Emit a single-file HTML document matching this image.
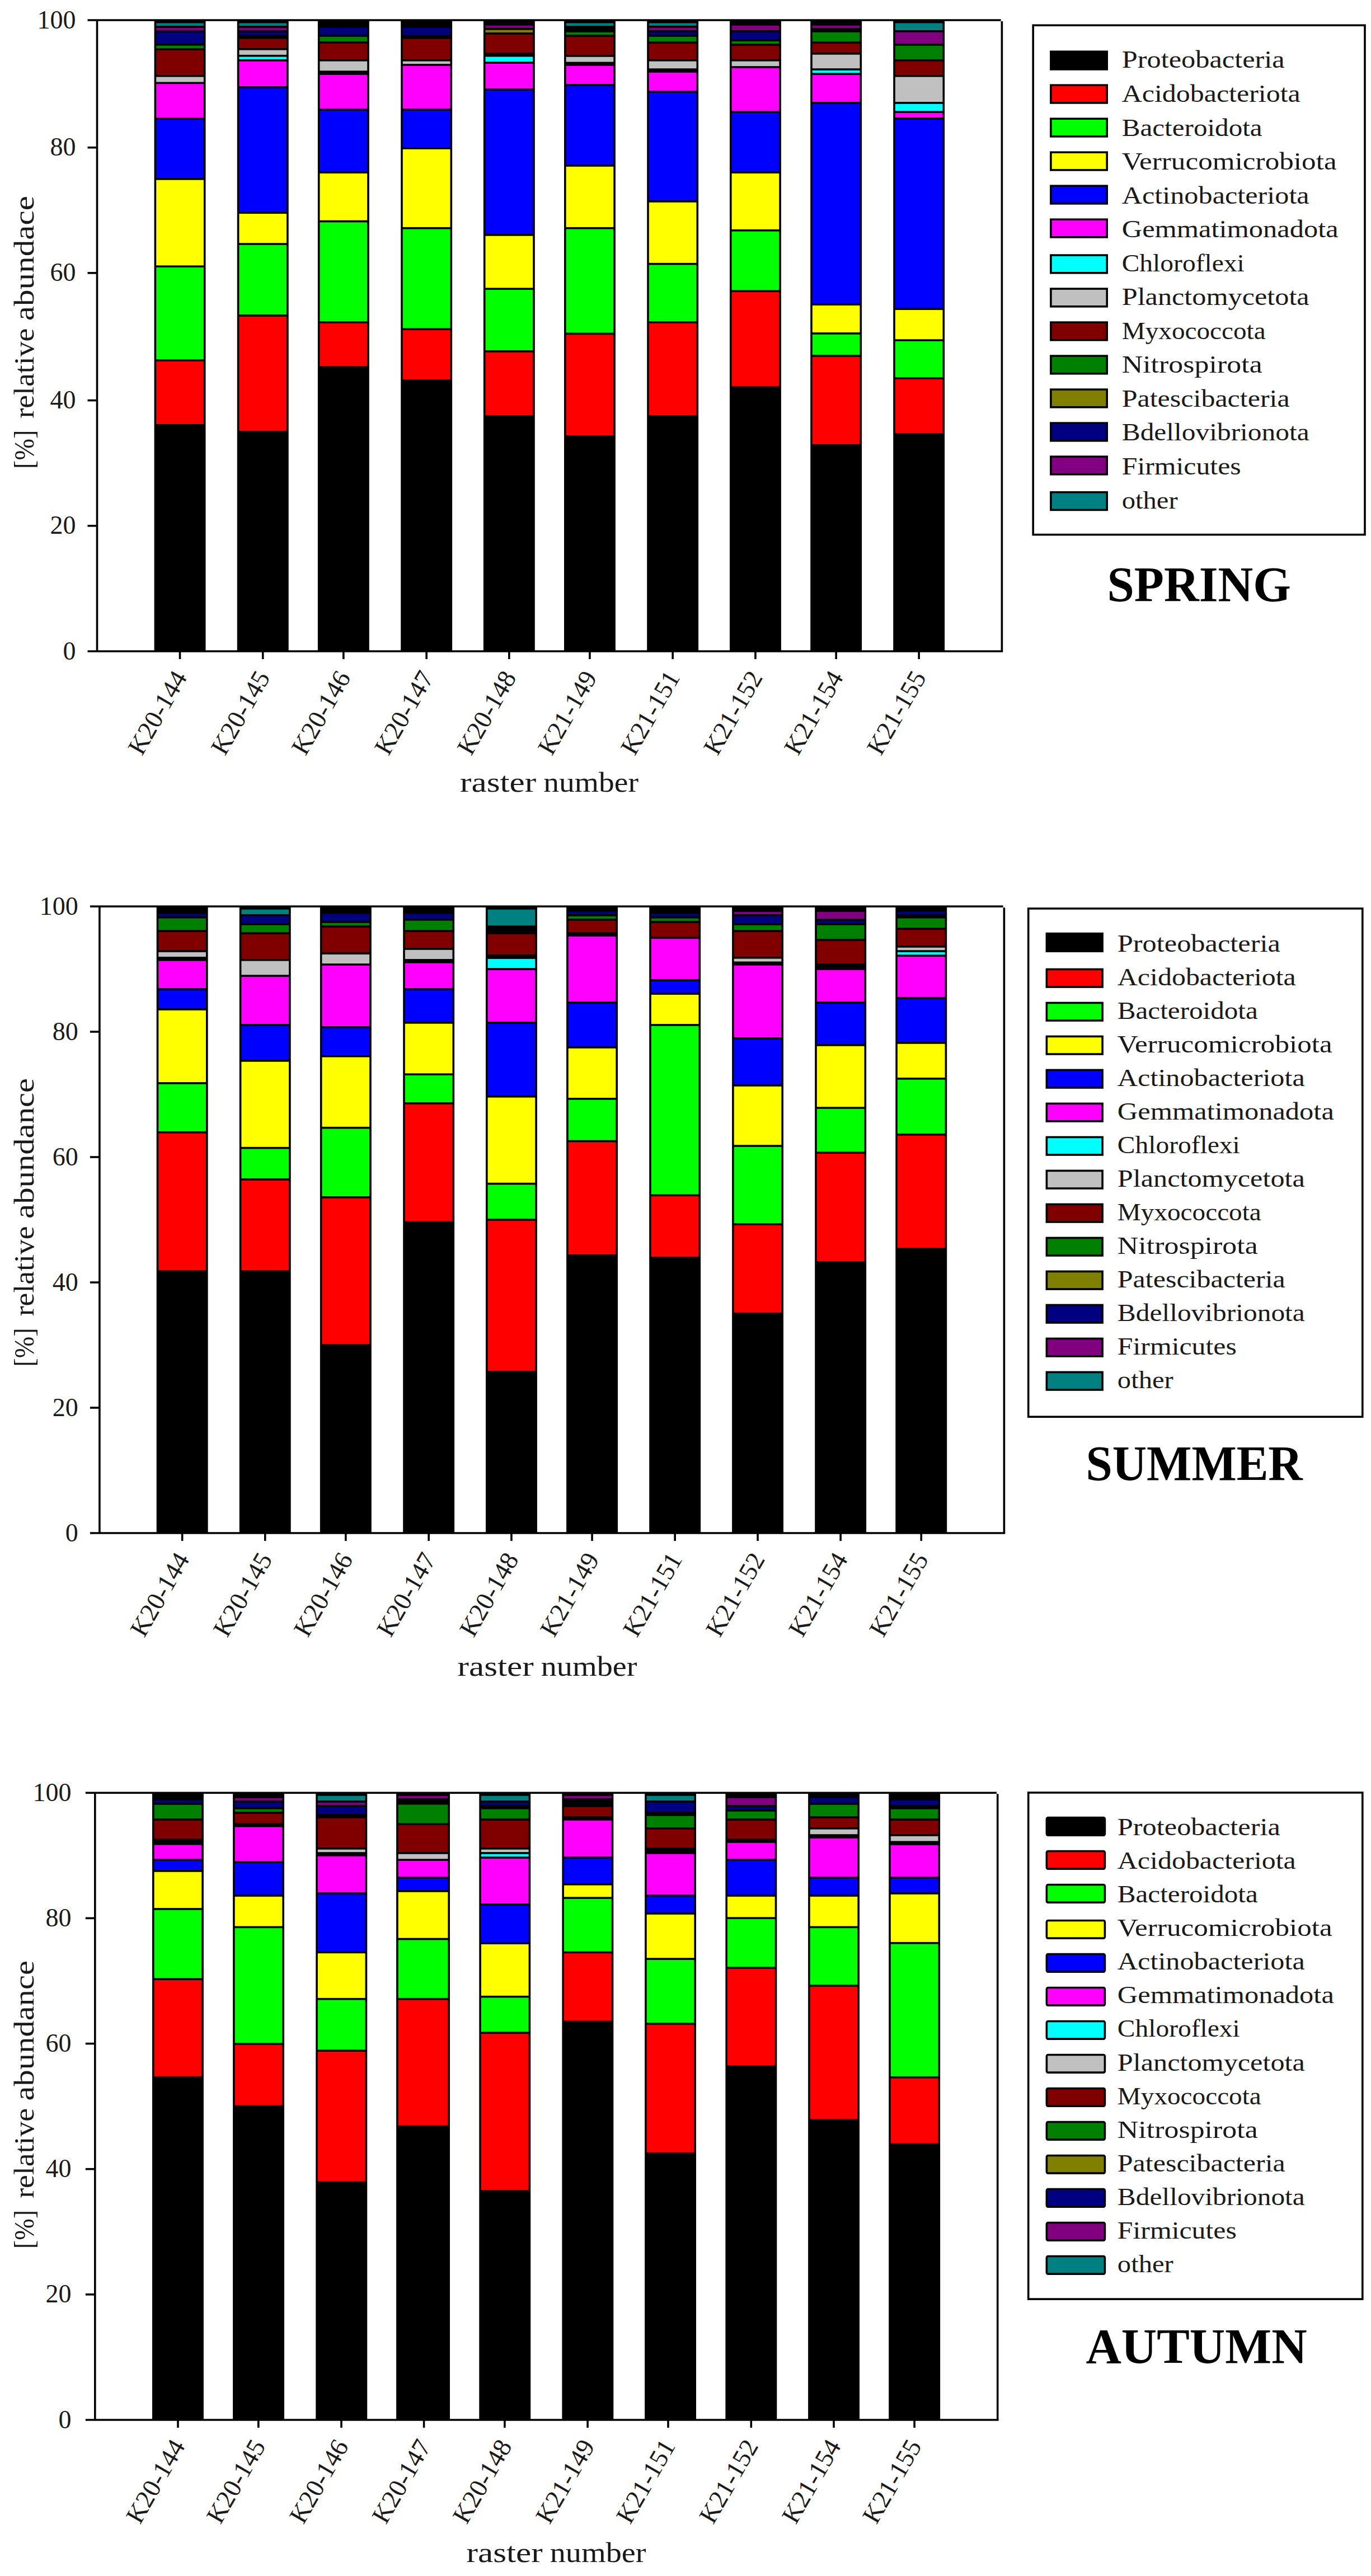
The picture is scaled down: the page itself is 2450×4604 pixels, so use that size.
<!DOCTYPE html>
<html lang="en">
<head>
<meta charset="utf-8">
<title>Relative abundance of bacterial phyla - spring, summer, autumn</title>
<style>
html,body{margin:0;padding:0;background:#fff;}
body{width:2450px;height:4604px;overflow:hidden;}
svg{display:block;}
text{font-family:"Liberation Serif","DejaVu Serif",serif;fill:#1a1a1a;}
.tl text{font-size:46px;}
.at{font-size:50px;}
.lg{font-size:45px;}
.se{font-size:88px;font-weight:bold;fill:#000;}
</style>
</head>
<body>
<svg width="2450" height="4604" viewBox="0 0 2450 4604">
<rect x="0" y="0" width="2450" height="4604" fill="#fff"/>

<g>
<rect x="275.6" y="36" width="91.9" height="1128" fill="#000"/>
<rect x="279.2" y="41.4" width="84.7" height="4.72" fill="#008080"/>
<rect x="279.2" y="49.72" width="84.7" height="4.73" fill="#800080"/>
<rect x="279.2" y="58.05" width="84.7" height="19.82" fill="#000080"/>
<rect x="279.2" y="81.47" width="84.7" height="4.96" fill="#008000"/>
<rect x="279.2" y="90.02" width="84.7" height="43.91" fill="#800000"/>
<rect x="279.2" y="137.53" width="84.7" height="9.01" fill="#c0c0c0"/>
<rect x="279.2" y="150.14" width="84.7" height="60.34" fill="#ff00ff"/>
<rect x="279.2" y="214.08" width="84.7" height="104.02" fill="#0000ff"/>
<rect x="279.2" y="321.71" width="84.7" height="152.66" fill="#ffff00"/>
<rect x="279.2" y="477.96" width="84.7" height="164.37" fill="#00ff00"/>
<rect x="279.2" y="645.93" width="84.7" height="111.98" fill="#ff0000"/>
<rect x="423.8" y="36" width="91.9" height="1128" fill="#000"/>
<rect x="427.4" y="41.4" width="84.7" height="4.72" fill="#008080"/>
<rect x="427.4" y="49.72" width="84.7" height="4.51" fill="#800080"/>
<rect x="427.4" y="57.82" width="84.7" height="4.55" fill="#000080"/>
<rect x="427.4" y="69.48" width="84.7" height="16.49" fill="#800000"/>
<rect x="427.4" y="89.57" width="84.7" height="8.33" fill="#c0c0c0"/>
<rect x="427.4" y="101.5" width="84.7" height="4.51" fill="#00ffff"/>
<rect x="427.4" y="109.61" width="84.7" height="44.58" fill="#ff00ff"/>
<rect x="427.4" y="157.79" width="84.7" height="220.65" fill="#0000ff"/>
<rect x="427.4" y="382.05" width="84.7" height="52.24" fill="#ffff00"/>
<rect x="427.4" y="437.89" width="84.7" height="124.29" fill="#00ff00"/>
<rect x="427.4" y="565.77" width="84.7" height="204.29" fill="#ff0000"/>
<rect x="567.9" y="36" width="91.9" height="1128" fill="#000"/>
<rect x="571.5" y="49.67" width="84.7" height="12.43" fill="#000080"/>
<rect x="571.5" y="65.71" width="84.7" height="8.33" fill="#008000"/>
<rect x="571.5" y="77.64" width="84.7" height="28.37" fill="#800000"/>
<rect x="571.5" y="109.61" width="84.7" height="16.71" fill="#c0c0c0"/>
<rect x="571.5" y="133.88" width="84.7" height="60.39" fill="#ff00ff"/>
<rect x="571.5" y="197.87" width="84.7" height="108.53" fill="#0000ff"/>
<rect x="571.5" y="310" width="84.7" height="83.76" fill="#ffff00"/>
<rect x="571.5" y="397.36" width="84.7" height="176.97" fill="#00ff00"/>
<rect x="571.5" y="577.93" width="84.7" height="76.4" fill="#ff0000"/>
<rect x="716.2" y="36" width="91.9" height="1128" fill="#000"/>
<rect x="719.8" y="49.67" width="84.7" height="12.71" fill="#000080"/>
<rect x="719.8" y="69.48" width="84.7" height="36.53" fill="#800000"/>
<rect x="719.8" y="109.61" width="84.7" height="4.51" fill="#c0c0c0"/>
<rect x="719.8" y="117.72" width="84.7" height="76.55" fill="#ff00ff"/>
<rect x="719.8" y="197.87" width="84.7" height="65.3" fill="#0000ff"/>
<rect x="719.8" y="266.77" width="84.7" height="139.15" fill="#ffff00"/>
<rect x="719.8" y="409.52" width="84.7" height="176.97" fill="#00ff00"/>
<rect x="719.8" y="590.09" width="84.7" height="88.11" fill="#ff0000"/>
<rect x="863.9" y="36" width="91.9" height="1128" fill="#000"/>
<rect x="867.5" y="45.62" width="84.7" height="4.33" fill="#800080"/>
<rect x="867.5" y="53.55" width="84.7" height="4.51" fill="#808000"/>
<rect x="867.5" y="61.65" width="84.7" height="32.7" fill="#800000"/>
<rect x="867.5" y="101.46" width="84.7" height="8.83" fill="#00ffff"/>
<rect x="867.5" y="113.89" width="84.7" height="44.36" fill="#ff00ff"/>
<rect x="867.5" y="161.85" width="84.7" height="256.23" fill="#0000ff"/>
<rect x="867.5" y="421.67" width="84.7" height="92.77" fill="#ffff00"/>
<rect x="867.5" y="518.04" width="84.7" height="108.08" fill="#00ff00"/>
<rect x="867.5" y="629.72" width="84.7" height="112.43" fill="#ff0000"/>
<rect x="1008" y="36" width="91.9" height="1128" fill="#000"/>
<rect x="1011.6" y="41.4" width="84.7" height="4.77" fill="#008080"/>
<rect x="1011.6" y="57.78" width="84.7" height="4.33" fill="#008000"/>
<rect x="1011.6" y="65.71" width="84.7" height="32.42" fill="#800000"/>
<rect x="1011.6" y="101.73" width="84.7" height="8.83" fill="#c0c0c0"/>
<rect x="1011.6" y="117.67" width="84.7" height="32.47" fill="#ff00ff"/>
<rect x="1011.6" y="153.74" width="84.7" height="140.5" fill="#0000ff"/>
<rect x="1011.6" y="297.84" width="84.7" height="108.08" fill="#ffff00"/>
<rect x="1011.6" y="409.52" width="84.7" height="185.08" fill="#00ff00"/>
<rect x="1011.6" y="598.19" width="84.7" height="179.97" fill="#ff0000"/>
<rect x="1156.2" y="36" width="91.9" height="1128" fill="#000"/>
<rect x="1159.8" y="41.4" width="84.7" height="4.49" fill="#008080"/>
<rect x="1159.8" y="49.49" width="84.7" height="4.51" fill="#800080"/>
<rect x="1159.8" y="57.6" width="84.7" height="4.51" fill="#000080"/>
<rect x="1159.8" y="65.71" width="84.7" height="8.56" fill="#008000"/>
<rect x="1159.8" y="77.86" width="84.7" height="28.15" fill="#800000"/>
<rect x="1159.8" y="109.61" width="84.7" height="12.66" fill="#c0c0c0"/>
<rect x="1159.8" y="129.83" width="84.7" height="32.47" fill="#ff00ff"/>
<rect x="1159.8" y="165.9" width="84.7" height="192.28" fill="#0000ff"/>
<rect x="1159.8" y="361.78" width="84.7" height="108.08" fill="#ffff00"/>
<rect x="1159.8" y="473.46" width="84.7" height="100.87" fill="#00ff00"/>
<rect x="1159.8" y="577.93" width="84.7" height="164.21" fill="#ff0000"/>
<rect x="1304" y="36" width="91.9" height="1128" fill="#000"/>
<rect x="1307.6" y="45.62" width="84.7" height="8.38" fill="#800080"/>
<rect x="1307.6" y="57.6" width="84.7" height="12.61" fill="#000080"/>
<rect x="1307.6" y="73.81" width="84.7" height="4.28" fill="#008000"/>
<rect x="1307.6" y="81.69" width="84.7" height="24.32" fill="#800000"/>
<rect x="1307.6" y="109.61" width="84.7" height="8.56" fill="#c0c0c0"/>
<rect x="1307.6" y="121.77" width="84.7" height="76.55" fill="#ff00ff"/>
<rect x="1307.6" y="201.92" width="84.7" height="104.47" fill="#0000ff"/>
<rect x="1307.6" y="310" width="84.7" height="99.97" fill="#ffff00"/>
<rect x="1307.6" y="413.57" width="84.7" height="104.92" fill="#00ff00"/>
<rect x="1307.6" y="522.09" width="84.7" height="168.27" fill="#ff0000"/>
<rect x="1448.2" y="36" width="91.9" height="1128" fill="#000"/>
<rect x="1451.8" y="45.62" width="84.7" height="4.6" fill="#800080"/>
<rect x="1451.8" y="57.78" width="84.7" height="16.49" fill="#008000"/>
<rect x="1451.8" y="77.86" width="84.7" height="16.21" fill="#800000"/>
<rect x="1451.8" y="97.68" width="84.7" height="24.54" fill="#c0c0c0"/>
<rect x="1451.8" y="125.82" width="84.7" height="4.51" fill="#00ffff"/>
<rect x="1451.8" y="133.93" width="84.7" height="48.19" fill="#ff00ff"/>
<rect x="1451.8" y="185.71" width="84.7" height="356.65" fill="#0000ff"/>
<rect x="1451.8" y="545.96" width="84.7" height="48.19" fill="#ffff00"/>
<rect x="1451.8" y="597.74" width="84.7" height="36.48" fill="#00ff00"/>
<rect x="1451.8" y="637.82" width="84.7" height="156.11" fill="#ff0000"/>
<rect x="1596.2" y="36" width="91.9" height="1128" fill="#000"/>
<rect x="1599.8" y="41.4" width="84.7" height="12.6" fill="#008080"/>
<rect x="1599.8" y="57.6" width="84.7" height="20.49" fill="#800080"/>
<rect x="1599.8" y="81.69" width="84.7" height="24.32" fill="#008000"/>
<rect x="1599.8" y="109.61" width="84.7" height="24.32" fill="#800000"/>
<rect x="1599.8" y="137.53" width="84.7" height="44.58" fill="#c0c0c0"/>
<rect x="1599.8" y="185.71" width="84.7" height="12.61" fill="#00ffff"/>
<rect x="1599.8" y="201.92" width="84.7" height="8.11" fill="#ff00ff"/>
<rect x="1599.8" y="213.63" width="84.7" height="336.83" fill="#0000ff"/>
<rect x="1599.8" y="554.06" width="84.7" height="52.24" fill="#ffff00"/>
<rect x="1599.8" y="609.9" width="84.7" height="64.4" fill="#00ff00"/>
<rect x="1599.8" y="677.9" width="84.7" height="96.22" fill="#ff0000"/>
<g stroke="#000" stroke-width="3.6" fill="none" stroke-linecap="butt">
<path d="M156.5 36H1788.6"/>
<path d="M156.5 1164H1792.2"/>
<path d="M173.5 36V1164"/>
<path d="M1790.4 38V1164"/>
<path d="M156.5 263.7H173.5"/>
<path d="M156.5 487.9H173.5"/>
<path d="M156.5 715.6H173.5"/>
<path d="M156.5 939.8H173.5"/>
<path d="M321.55 1164V1178"/>
<path d="M469.75 1164V1178"/>
<path d="M613.85 1164V1178"/>
<path d="M762.15 1164V1178"/>
<path d="M909.85 1164V1178"/>
<path d="M1053.95 1164V1178"/>
<path d="M1202.15 1164V1178"/>
<path d="M1349.95 1164V1178"/>
<path d="M1494.15 1164V1178"/>
<path d="M1642.15 1164V1178"/>
</g>
<g class="tl" text-anchor="end">
<text x="135.5" y="50.5">100</text>
<text x="135.5" y="278.2">80</text>
<text x="135.5" y="502.4">60</text>
<text x="135.5" y="730.1">40</text>
<text x="135.5" y="954.3">20</text>
<text x="135.5" y="1178.5">0</text>
</g>
<g class="at" transform="translate(59.5 838) rotate(-90)">
<text x="0" y="0" textLength="69.3" lengthAdjust="spacingAndGlyphs">[%]</text>
<text x="90.4" y="0" textLength="161" lengthAdjust="spacingAndGlyphs">relative</text>
<text x="264.8" y="0" textLength="223.2" lengthAdjust="spacingAndGlyphs">abundace</text>
</g>
<g class="tl" text-anchor="end">
<text transform="translate(322.55 1203) rotate(-60)" x="0" y="15">K20-144</text>
<text transform="translate(470.75 1203) rotate(-60)" x="0" y="15">K20-145</text>
<text transform="translate(614.85 1203) rotate(-60)" x="0" y="15">K20-146</text>
<text transform="translate(763.15 1203) rotate(-60)" x="0" y="15">K20-147</text>
<text transform="translate(910.85 1203) rotate(-60)" x="0" y="15">K20-148</text>
<text transform="translate(1054.95 1203) rotate(-60)" x="0" y="15">K21-149</text>
<text transform="translate(1203.15 1203) rotate(-60)" x="0" y="15">K21-151</text>
<text transform="translate(1350.95 1203) rotate(-60)" x="0" y="15">K21-152</text>
<text transform="translate(1495.15 1203) rotate(-60)" x="0" y="15">K21-154</text>
<text transform="translate(1643.15 1203) rotate(-60)" x="0" y="15">K21-155</text>
</g>
<text class="at" x="822" y="1414.8" textLength="136.3" lengthAdjust="spacingAndGlyphs">raster</text>
<text class="at" x="971.2" y="1414.8" textLength="169.8" lengthAdjust="spacingAndGlyphs">number</text>
<rect x="1846.2" y="45.2" width="592.8" height="910.4" fill="#fff" stroke="#000" stroke-width="3.6"/>
<rect x="1877.9" y="92.2" width="100.3" height="31.7" rx="0" fill="#000000" stroke="#000" stroke-width="3.6"/>
<text class="lg" x="2004.7" y="121.4" textLength="291" lengthAdjust="spacingAndGlyphs">Proteobacteria</text>
<rect x="1877.9" y="152.2" width="100.3" height="31.7" rx="0" fill="#ff0000" stroke="#000" stroke-width="3.6"/>
<text class="lg" x="2004.7" y="181.95" textLength="319" lengthAdjust="spacingAndGlyphs">Acidobacteriota</text>
<rect x="1877.9" y="212.2" width="100.3" height="31.7" rx="0" fill="#00ff00" stroke="#000" stroke-width="3.6"/>
<text class="lg" x="2004.7" y="242.5" textLength="251" lengthAdjust="spacingAndGlyphs">Bacteroidota</text>
<rect x="1877.9" y="272.2" width="100.3" height="31.7" rx="0" fill="#ffff00" stroke="#000" stroke-width="3.6"/>
<text class="lg" x="2004.7" y="303.05" textLength="384" lengthAdjust="spacingAndGlyphs">Verrucomicrobiota</text>
<rect x="1877.9" y="332.2" width="100.3" height="31.7" rx="0" fill="#0000ff" stroke="#000" stroke-width="3.6"/>
<text class="lg" x="2004.7" y="363.6" textLength="335" lengthAdjust="spacingAndGlyphs">Actinobacteriota</text>
<rect x="1877.9" y="392.2" width="100.3" height="31.7" rx="0" fill="#ff00ff" stroke="#000" stroke-width="3.6"/>
<text class="lg" x="2004.7" y="424.15" textLength="387" lengthAdjust="spacingAndGlyphs">Gemmatimonadota</text>
<rect x="1877.9" y="456.1" width="100.3" height="31.7" rx="0" fill="#00ffff" stroke="#000" stroke-width="3.6"/>
<text class="lg" x="2004.7" y="484.7" textLength="219" lengthAdjust="spacingAndGlyphs">Chloroflexi</text>
<rect x="1877.9" y="516.1" width="100.3" height="31.7" rx="0" fill="#c0c0c0" stroke="#000" stroke-width="3.6"/>
<text class="lg" x="2004.7" y="545.25" textLength="335" lengthAdjust="spacingAndGlyphs">Planctomycetota</text>
<rect x="1877.9" y="576.1" width="100.3" height="31.7" rx="0" fill="#800000" stroke="#000" stroke-width="3.6"/>
<text class="lg" x="2004.7" y="605.8" textLength="257" lengthAdjust="spacingAndGlyphs">Myxococcota</text>
<rect x="1877.9" y="636.1" width="100.3" height="31.7" rx="0" fill="#008000" stroke="#000" stroke-width="3.6"/>
<text class="lg" x="2004.7" y="666.35" textLength="251" lengthAdjust="spacingAndGlyphs">Nitrospirota</text>
<rect x="1877.9" y="696.1" width="100.3" height="31.7" rx="0" fill="#808000" stroke="#000" stroke-width="3.6"/>
<text class="lg" x="2004.7" y="726.9" textLength="300" lengthAdjust="spacingAndGlyphs">Patescibacteria</text>
<rect x="1877.9" y="756.1" width="100.3" height="31.7" rx="0" fill="#000080" stroke="#000" stroke-width="3.6"/>
<text class="lg" x="2004.7" y="787.45" textLength="335" lengthAdjust="spacingAndGlyphs">Bdellovibrionota</text>
<rect x="1877.9" y="816.1" width="100.3" height="31.7" rx="0" fill="#800080" stroke="#000" stroke-width="3.6"/>
<text class="lg" x="2004.7" y="848" textLength="213" lengthAdjust="spacingAndGlyphs">Firmicutes</text>
<rect x="1877.9" y="879.7" width="100.3" height="31.7" rx="0" fill="#008080" stroke="#000" stroke-width="3.6"/>
<text class="lg" x="2004.7" y="908.55" textLength="100" lengthAdjust="spacingAndGlyphs">other</text>
<text class="se" x="1978.5" y="1073.7" textLength="328.5" lengthAdjust="spacingAndGlyphs">SPRING</text>
</g>
<g>
<rect x="279.7" y="1620" width="91.9" height="1120" fill="#000"/>
<rect x="283.3" y="1633.27" width="84.7" height="4.55" fill="#000080"/>
<rect x="283.3" y="1641.43" width="84.7" height="20.72" fill="#008000"/>
<rect x="283.3" y="1665.74" width="84.7" height="32.42" fill="#800000"/>
<rect x="283.3" y="1701.77" width="84.7" height="8.16" fill="#c0c0c0"/>
<rect x="283.3" y="1717.48" width="84.7" height="48.68" fill="#ff00ff"/>
<rect x="283.3" y="1769.77" width="84.7" height="32.42" fill="#0000ff"/>
<rect x="283.3" y="1805.79" width="84.7" height="128.34" fill="#ffff00"/>
<rect x="283.3" y="1937.73" width="84.7" height="84.21" fill="#00ff00"/>
<rect x="283.3" y="2025.54" width="84.7" height="244.82" fill="#ff0000"/>
<rect x="427.8" y="1620" width="91.9" height="1120" fill="#000"/>
<rect x="431.4" y="1625.62" width="84.7" height="8.38" fill="#008080"/>
<rect x="431.4" y="1637.6" width="84.7" height="12.39" fill="#000080"/>
<rect x="431.4" y="1653.59" width="84.7" height="12.61" fill="#008000"/>
<rect x="431.4" y="1669.8" width="84.7" height="44.13" fill="#800000"/>
<rect x="431.4" y="1717.53" width="84.7" height="24.77" fill="#c0c0c0"/>
<rect x="431.4" y="1745.9" width="84.7" height="84.21" fill="#ff00ff"/>
<rect x="431.4" y="1833.71" width="84.7" height="60.34" fill="#0000ff"/>
<rect x="431.4" y="1897.65" width="84.7" height="152.21" fill="#ffff00"/>
<rect x="431.4" y="2053.46" width="84.7" height="52.69" fill="#00ff00"/>
<rect x="431.4" y="2109.75" width="84.7" height="160.61" fill="#ff0000"/>
<rect x="571.9" y="1620" width="91.9" height="1120" fill="#000"/>
<rect x="575.5" y="1633.27" width="84.7" height="12.66" fill="#000080"/>
<rect x="575.5" y="1649.53" width="84.7" height="4.51" fill="#008000"/>
<rect x="575.5" y="1657.64" width="84.7" height="44.58" fill="#800000"/>
<rect x="575.5" y="1705.82" width="84.7" height="16.21" fill="#c0c0c0"/>
<rect x="575.5" y="1725.63" width="84.7" height="108.53" fill="#ff00ff"/>
<rect x="575.5" y="1837.76" width="84.7" height="48.19" fill="#0000ff"/>
<rect x="575.5" y="1889.55" width="84.7" height="124.29" fill="#ffff00"/>
<rect x="575.5" y="2017.43" width="84.7" height="120.69" fill="#00ff00"/>
<rect x="575.5" y="2141.72" width="84.7" height="260.58" fill="#ff0000"/>
<rect x="720.2" y="1620" width="91.9" height="1120" fill="#000"/>
<rect x="723.8" y="1633.27" width="84.7" height="8.61" fill="#000080"/>
<rect x="723.8" y="1645.48" width="84.7" height="16.66" fill="#008000"/>
<rect x="723.8" y="1665.74" width="84.7" height="28.37" fill="#800000"/>
<rect x="723.8" y="1697.72" width="84.7" height="16.26" fill="#c0c0c0"/>
<rect x="723.8" y="1721.53" width="84.7" height="44.63" fill="#ff00ff"/>
<rect x="723.8" y="1769.77" width="84.7" height="56.29" fill="#0000ff"/>
<rect x="723.8" y="1829.66" width="84.7" height="88.71" fill="#ffff00"/>
<rect x="723.8" y="1921.97" width="84.7" height="48.19" fill="#00ff00"/>
<rect x="723.8" y="1973.75" width="84.7" height="208.79" fill="#ff0000"/>
<rect x="868" y="1620" width="91.9" height="1120" fill="#000"/>
<rect x="871.6" y="1625.62" width="84.7" height="28.47" fill="#008080"/>
<rect x="871.6" y="1669.75" width="84.7" height="36.12" fill="#800000"/>
<rect x="871.6" y="1713.88" width="84.7" height="16.26" fill="#00ffff"/>
<rect x="871.6" y="1733.74" width="84.7" height="92.32" fill="#ff00ff"/>
<rect x="871.6" y="1829.66" width="84.7" height="128.34" fill="#0000ff"/>
<rect x="871.6" y="1961.6" width="84.7" height="152.21" fill="#ffff00"/>
<rect x="871.6" y="2117.4" width="84.7" height="60.79" fill="#00ff00"/>
<rect x="871.6" y="2181.8" width="84.7" height="268.23" fill="#ff0000"/>
<rect x="1012.1" y="1620" width="91.9" height="1120" fill="#000"/>
<rect x="1015.7" y="1629.67" width="84.7" height="4.33" fill="#000080"/>
<rect x="1015.7" y="1637.6" width="84.7" height="4.28" fill="#008000"/>
<rect x="1015.7" y="1645.48" width="84.7" height="20.77" fill="#800000"/>
<rect x="1015.7" y="1673.8" width="84.7" height="116.23" fill="#ff00ff"/>
<rect x="1015.7" y="1793.63" width="84.7" height="76.55" fill="#0000ff"/>
<rect x="1015.7" y="1873.79" width="84.7" height="88.26" fill="#ffff00"/>
<rect x="1015.7" y="1965.65" width="84.7" height="72.05" fill="#00ff00"/>
<rect x="1015.7" y="2041.3" width="84.7" height="200.69" fill="#ff0000"/>
<rect x="1160.2" y="1620" width="91.9" height="1120" fill="#000"/>
<rect x="1163.8" y="1633.27" width="84.7" height="4.55" fill="#000080"/>
<rect x="1163.8" y="1641.43" width="84.7" height="4.51" fill="#008000"/>
<rect x="1163.8" y="1649.53" width="84.7" height="24.77" fill="#800000"/>
<rect x="1163.8" y="1677.9" width="84.7" height="72.05" fill="#ff00ff"/>
<rect x="1163.8" y="1753.55" width="84.7" height="20.72" fill="#0000ff"/>
<rect x="1163.8" y="1777.87" width="84.7" height="52.24" fill="#ffff00"/>
<rect x="1163.8" y="1833.71" width="84.7" height="300.81" fill="#00ff00"/>
<rect x="1163.8" y="2138.12" width="84.7" height="107.92" fill="#ff0000"/>
<rect x="1308.1" y="1620" width="91.9" height="1120" fill="#000"/>
<rect x="1311.7" y="1629.67" width="84.7" height="4.33" fill="#800080"/>
<rect x="1311.7" y="1637.6" width="84.7" height="12.39" fill="#000080"/>
<rect x="1311.7" y="1653.59" width="84.7" height="8.56" fill="#008000"/>
<rect x="1311.7" y="1665.74" width="84.7" height="44.13" fill="#800000"/>
<rect x="1311.7" y="1713.48" width="84.7" height="5" fill="#c0c0c0"/>
<rect x="1311.7" y="1725.59" width="84.7" height="128.39" fill="#ff00ff"/>
<rect x="1311.7" y="1857.58" width="84.7" height="80.61" fill="#0000ff"/>
<rect x="1311.7" y="1941.78" width="84.7" height="104.47" fill="#ffff00"/>
<rect x="1311.7" y="2049.86" width="84.7" height="136.45" fill="#00ff00"/>
<rect x="1311.7" y="2189.9" width="84.7" height="156.11" fill="#ff0000"/>
<rect x="1456.2" y="1620" width="91.9" height="1120" fill="#000"/>
<rect x="1459.8" y="1629.67" width="84.7" height="12.43" fill="#800080"/>
<rect x="1459.8" y="1645.71" width="84.7" height="4.28" fill="#000080"/>
<rect x="1459.8" y="1653.59" width="84.7" height="24.32" fill="#008000"/>
<rect x="1459.8" y="1681.5" width="84.7" height="40.58" fill="#800000"/>
<rect x="1459.8" y="1733.69" width="84.7" height="56.34" fill="#ff00ff"/>
<rect x="1459.8" y="1793.63" width="84.7" height="72.5" fill="#0000ff"/>
<rect x="1459.8" y="1869.73" width="84.7" height="108.53" fill="#ffff00"/>
<rect x="1459.8" y="1981.86" width="84.7" height="76.55" fill="#00ff00"/>
<rect x="1459.8" y="2062.02" width="84.7" height="192.13" fill="#ff0000"/>
<rect x="1600.3" y="1620" width="91.9" height="1120" fill="#000"/>
<rect x="1603.9" y="1629.67" width="84.7" height="4.6" fill="#000080"/>
<rect x="1603.9" y="1641.38" width="84.7" height="16.71" fill="#008000"/>
<rect x="1603.9" y="1661.69" width="84.7" height="28.37" fill="#800000"/>
<rect x="1603.9" y="1693.66" width="84.7" height="4.51" fill="#c0c0c0"/>
<rect x="1603.9" y="1701.77" width="84.7" height="4.51" fill="#00ffff"/>
<rect x="1603.9" y="1709.87" width="84.7" height="72.05" fill="#ff00ff"/>
<rect x="1603.9" y="1785.53" width="84.7" height="76.55" fill="#0000ff"/>
<rect x="1603.9" y="1865.68" width="84.7" height="60.34" fill="#ffff00"/>
<rect x="1603.9" y="1929.62" width="84.7" height="96.37" fill="#00ff00"/>
<rect x="1603.9" y="2029.59" width="84.7" height="200.69" fill="#ff0000"/>
<g stroke="#000" stroke-width="3.6" fill="none" stroke-linecap="butt">
<path d="M160.9 1620H1792.6"/>
<path d="M160.9 2740H1796.2"/>
<path d="M177.9 1620V2740"/>
<path d="M1794.4 1622V2740"/>
<path d="M160.9 1844H177.9"/>
<path d="M160.9 2068H177.9"/>
<path d="M160.9 2292H177.9"/>
<path d="M160.9 2516H177.9"/>
<path d="M325.65 2740V2754"/>
<path d="M473.75 2740V2754"/>
<path d="M617.85 2740V2754"/>
<path d="M766.15 2740V2754"/>
<path d="M913.95 2740V2754"/>
<path d="M1058.05 2740V2754"/>
<path d="M1206.15 2740V2754"/>
<path d="M1354.05 2740V2754"/>
<path d="M1502.15 2740V2754"/>
<path d="M1646.25 2740V2754"/>
</g>
<g class="tl" text-anchor="end">
<text x="139.7" y="1634.5">100</text>
<text x="139.7" y="1858.5">80</text>
<text x="139.7" y="2082.5">60</text>
<text x="139.7" y="2306.5">40</text>
<text x="139.7" y="2530.5">20</text>
<text x="139.7" y="2754.5">0</text>
</g>
<g class="at" transform="translate(59.5 2442.7) rotate(-90)">
<text x="0" y="0" textLength="69.3" lengthAdjust="spacingAndGlyphs">[%]</text>
<text x="90.4" y="0" textLength="161" lengthAdjust="spacingAndGlyphs">relative</text>
<text x="264.8" y="0" textLength="251.1" lengthAdjust="spacingAndGlyphs">abundance</text>
</g>
<g class="tl" text-anchor="end">
<text transform="translate(326.65 2779) rotate(-60)" x="0" y="15">K20-144</text>
<text transform="translate(474.75 2779) rotate(-60)" x="0" y="15">K20-145</text>
<text transform="translate(618.85 2779) rotate(-60)" x="0" y="15">K20-146</text>
<text transform="translate(767.15 2779) rotate(-60)" x="0" y="15">K20-147</text>
<text transform="translate(914.95 2779) rotate(-60)" x="0" y="15">K20-148</text>
<text transform="translate(1059.05 2779) rotate(-60)" x="0" y="15">K21-149</text>
<text transform="translate(1207.15 2779) rotate(-60)" x="0" y="15">K21-151</text>
<text transform="translate(1355.05 2779) rotate(-60)" x="0" y="15">K21-152</text>
<text transform="translate(1503.15 2779) rotate(-60)" x="0" y="15">K21-154</text>
<text transform="translate(1647.25 2779) rotate(-60)" x="0" y="15">K21-155</text>
</g>
<text class="at" x="817.5" y="2995.2" textLength="136.3" lengthAdjust="spacingAndGlyphs">raster</text>
<text class="at" x="966.7" y="2995.2" textLength="171.8" lengthAdjust="spacingAndGlyphs">number</text>
<rect x="1837.7" y="1623.8" width="597.1" height="908.4" fill="#fff" stroke="#000" stroke-width="3.6"/>
<rect x="1870.4" y="1668.5" width="99.7" height="31.6" rx="0" fill="#000000" stroke="#000" stroke-width="3.6"/>
<text class="lg" x="1996.8" y="1700.6" textLength="291" lengthAdjust="spacingAndGlyphs">Proteobacteria</text>
<rect x="1870.4" y="1732.4" width="99.7" height="31.6" rx="0" fill="#ff0000" stroke="#000" stroke-width="3.6"/>
<text class="lg" x="1996.8" y="1760.6" textLength="319" lengthAdjust="spacingAndGlyphs">Acidobacteriota</text>
<rect x="1870.4" y="1792.4" width="99.7" height="31.6" rx="0" fill="#00ff00" stroke="#000" stroke-width="3.6"/>
<text class="lg" x="1996.8" y="1820.6" textLength="251" lengthAdjust="spacingAndGlyphs">Bacteroidota</text>
<rect x="1870.4" y="1852.4" width="99.7" height="31.6" rx="0" fill="#ffff00" stroke="#000" stroke-width="3.6"/>
<text class="lg" x="1996.8" y="1880.6" textLength="384" lengthAdjust="spacingAndGlyphs">Verrucomicrobiota</text>
<rect x="1870.4" y="1912.4" width="99.7" height="31.6" rx="0" fill="#0000ff" stroke="#000" stroke-width="3.6"/>
<text class="lg" x="1996.8" y="1940.6" textLength="335" lengthAdjust="spacingAndGlyphs">Actinobacteriota</text>
<rect x="1870.4" y="1972.4" width="99.7" height="31.6" rx="0" fill="#ff00ff" stroke="#000" stroke-width="3.6"/>
<text class="lg" x="1996.8" y="2000.6" textLength="387" lengthAdjust="spacingAndGlyphs">Gemmatimonadota</text>
<rect x="1870.4" y="2032.4" width="99.7" height="31.6" rx="0" fill="#00ffff" stroke="#000" stroke-width="3.6"/>
<text class="lg" x="1996.8" y="2060.6" textLength="219" lengthAdjust="spacingAndGlyphs">Chloroflexi</text>
<rect x="1870.4" y="2092.4" width="99.7" height="31.6" rx="0" fill="#c0c0c0" stroke="#000" stroke-width="3.6"/>
<text class="lg" x="1996.8" y="2120.6" textLength="335" lengthAdjust="spacingAndGlyphs">Planctomycetota</text>
<rect x="1870.4" y="2152.4" width="99.7" height="31.6" rx="0" fill="#800000" stroke="#000" stroke-width="3.6"/>
<text class="lg" x="1996.8" y="2180.6" textLength="257" lengthAdjust="spacingAndGlyphs">Myxococcota</text>
<rect x="1870.4" y="2212.4" width="99.7" height="31.6" rx="0" fill="#008000" stroke="#000" stroke-width="3.6"/>
<text class="lg" x="1996.8" y="2240.6" textLength="251" lengthAdjust="spacingAndGlyphs">Nitrospirota</text>
<rect x="1870.4" y="2272.4" width="99.7" height="31.6" rx="0" fill="#808000" stroke="#000" stroke-width="3.6"/>
<text class="lg" x="1996.8" y="2300.6" textLength="300" lengthAdjust="spacingAndGlyphs">Patescibacteria</text>
<rect x="1870.4" y="2332.4" width="99.7" height="31.6" rx="0" fill="#000080" stroke="#000" stroke-width="3.6"/>
<text class="lg" x="1996.8" y="2360.6" textLength="335" lengthAdjust="spacingAndGlyphs">Bdellovibrionota</text>
<rect x="1870.4" y="2392.4" width="99.7" height="31.6" rx="0" fill="#800080" stroke="#000" stroke-width="3.6"/>
<text class="lg" x="1996.8" y="2420.6" textLength="213" lengthAdjust="spacingAndGlyphs">Firmicutes</text>
<rect x="1870.4" y="2452.4" width="99.7" height="31.6" rx="0" fill="#008080" stroke="#000" stroke-width="3.6"/>
<text class="lg" x="1996.8" y="2480.6" textLength="100" lengthAdjust="spacingAndGlyphs">other</text>
<text class="se" x="1940.4" y="2645.4" textLength="387.4" lengthAdjust="spacingAndGlyphs">SUMMER</text>
</g>
<g>
<rect x="272" y="3204.2" width="91.9" height="1120.8" fill="#000"/>
<rect x="275.6" y="3217.78" width="84.7" height="4.33" fill="#000080"/>
<rect x="275.6" y="3225.71" width="84.7" height="24.54" fill="#008000"/>
<rect x="275.6" y="3253.85" width="84.7" height="32.47" fill="#800000"/>
<rect x="275.6" y="3297.48" width="84.7" height="24.82" fill="#ff00ff"/>
<rect x="275.6" y="3325.9" width="84.7" height="16.21" fill="#0000ff"/>
<rect x="275.6" y="3345.71" width="84.7" height="64.4" fill="#ffff00"/>
<rect x="275.6" y="3413.71" width="84.7" height="121.59" fill="#00ff00"/>
<rect x="275.6" y="3538.89" width="84.7" height="171.87" fill="#ff0000"/>
<rect x="416.1" y="3204.2" width="91.9" height="1120.8" fill="#000"/>
<rect x="419.7" y="3213.72" width="84.7" height="4.33" fill="#800080"/>
<rect x="419.7" y="3221.65" width="84.7" height="8.33" fill="#000080"/>
<rect x="419.7" y="3233.59" width="84.7" height="4.51" fill="#008000"/>
<rect x="419.7" y="3241.69" width="84.7" height="16.71" fill="#800000"/>
<rect x="419.7" y="3265.51" width="84.7" height="60.84" fill="#ff00ff"/>
<rect x="419.7" y="3329.95" width="84.7" height="56.29" fill="#0000ff"/>
<rect x="419.7" y="3389.84" width="84.7" height="52.69" fill="#ffff00"/>
<rect x="419.7" y="3446.13" width="84.7" height="204.89" fill="#00ff00"/>
<rect x="419.7" y="3654.62" width="84.7" height="107.92" fill="#ff0000"/>
<rect x="564.3" y="3204.2" width="91.9" height="1120.8" fill="#000"/>
<rect x="567.9" y="3209.67" width="84.7" height="8.38" fill="#008080"/>
<rect x="567.9" y="3221.65" width="84.7" height="4.28" fill="#800080"/>
<rect x="567.9" y="3229.53" width="84.7" height="12.66" fill="#000080"/>
<rect x="567.9" y="3249.75" width="84.7" height="52.29" fill="#800000"/>
<rect x="567.9" y="3305.63" width="84.7" height="4.55" fill="#c0c0c0"/>
<rect x="567.9" y="3317.74" width="84.7" height="64.45" fill="#ff00ff"/>
<rect x="567.9" y="3385.79" width="84.7" height="101.77" fill="#0000ff"/>
<rect x="567.9" y="3491.16" width="84.7" height="79.71" fill="#ffff00"/>
<rect x="567.9" y="3574.47" width="84.7" height="88.71" fill="#00ff00"/>
<rect x="567.9" y="3666.78" width="84.7" height="231.76" fill="#ff0000"/>
<rect x="708.1" y="3204.2" width="95.9" height="1120.8" fill="#000"/>
<rect x="711.7" y="3209.67" width="88.7" height="4.6" fill="#800080"/>
<rect x="711.7" y="3225.43" width="88.7" height="32.92" fill="#008000"/>
<rect x="711.7" y="3261.95" width="88.7" height="48.19" fill="#800000"/>
<rect x="711.7" y="3313.74" width="88.7" height="8.56" fill="#c0c0c0"/>
<rect x="711.7" y="3325.9" width="88.7" height="28.37" fill="#ff00ff"/>
<rect x="711.7" y="3357.87" width="88.7" height="20.27" fill="#0000ff"/>
<rect x="711.7" y="3381.74" width="88.7" height="81.96" fill="#ffff00"/>
<rect x="711.7" y="3467.3" width="88.7" height="103.57" fill="#00ff00"/>
<rect x="711.7" y="3574.47" width="88.7" height="224.1" fill="#ff0000"/>
<rect x="856.3" y="3204.2" width="91.9" height="1120.8" fill="#000"/>
<rect x="859.9" y="3209.67" width="84.7" height="8.38" fill="#008080"/>
<rect x="859.9" y="3221.65" width="84.7" height="4.33" fill="#000080"/>
<rect x="859.9" y="3233.54" width="84.7" height="16.71" fill="#008000"/>
<rect x="859.9" y="3253.85" width="84.7" height="48.19" fill="#800000"/>
<rect x="859.9" y="3305.63" width="84.7" height="4.51" fill="#c0c0c0"/>
<rect x="859.9" y="3313.74" width="84.7" height="4.51" fill="#00ffff"/>
<rect x="859.9" y="3321.85" width="84.7" height="80.16" fill="#ff00ff"/>
<rect x="859.9" y="3405.6" width="84.7" height="65.75" fill="#0000ff"/>
<rect x="859.9" y="3474.95" width="84.7" height="91.87" fill="#ffff00"/>
<rect x="859.9" y="3570.42" width="84.7" height="60.79" fill="#00ff00"/>
<rect x="859.9" y="3634.81" width="84.7" height="279.49" fill="#ff0000"/>
<rect x="1004.4" y="3204.2" width="91.9" height="1120.8" fill="#000"/>
<rect x="1008" y="3209.67" width="84.7" height="4.6" fill="#800080"/>
<rect x="1008" y="3229.48" width="84.7" height="16.76" fill="#800000"/>
<rect x="1008" y="3253.8" width="84.7" height="64.45" fill="#ff00ff"/>
<rect x="1008" y="3321.85" width="84.7" height="44.13" fill="#0000ff"/>
<rect x="1008" y="3369.58" width="84.7" height="20.72" fill="#ffff00"/>
<rect x="1008" y="3393.9" width="84.7" height="93.67" fill="#00ff00"/>
<rect x="1008" y="3491.16" width="84.7" height="120.08" fill="#ff0000"/>
<rect x="1152.1" y="3204.2" width="91.9" height="1120.8" fill="#000"/>
<rect x="1155.7" y="3209.67" width="84.7" height="8.38" fill="#008080"/>
<rect x="1155.7" y="3221.65" width="84.7" height="16.49" fill="#000080"/>
<rect x="1155.7" y="3245.7" width="84.7" height="20.31" fill="#008000"/>
<rect x="1155.7" y="3269.61" width="84.7" height="32.47" fill="#800000"/>
<rect x="1155.7" y="3313.69" width="84.7" height="72.55" fill="#ff00ff"/>
<rect x="1155.7" y="3389.84" width="84.7" height="28.37" fill="#0000ff"/>
<rect x="1155.7" y="3421.81" width="84.7" height="77.46" fill="#ffff00"/>
<rect x="1155.7" y="3502.87" width="84.7" height="112.13" fill="#00ff00"/>
<rect x="1155.7" y="3618.6" width="84.7" height="228.16" fill="#ff0000"/>
<rect x="1296.4" y="3204.2" width="91.9" height="1120.8" fill="#000"/>
<rect x="1300" y="3213.72" width="84.7" height="12.21" fill="#800080"/>
<rect x="1300" y="3229.53" width="84.7" height="4.51" fill="#000080"/>
<rect x="1300" y="3237.64" width="84.7" height="12.61" fill="#008000"/>
<rect x="1300" y="3253.85" width="84.7" height="32.47" fill="#800000"/>
<rect x="1300" y="3293.88" width="84.7" height="28.42" fill="#ff00ff"/>
<rect x="1300" y="3325.9" width="84.7" height="60.34" fill="#0000ff"/>
<rect x="1300" y="3389.84" width="84.7" height="36.48" fill="#ffff00"/>
<rect x="1300" y="3429.92" width="84.7" height="85.11" fill="#00ff00"/>
<rect x="1300" y="3518.63" width="84.7" height="172.32" fill="#ff0000"/>
<rect x="1444.1" y="3204.2" width="91.9" height="1120.8" fill="#000"/>
<rect x="1447.7" y="3213.72" width="84.7" height="8.38" fill="#000080"/>
<rect x="1447.7" y="3225.71" width="84.7" height="20.49" fill="#008000"/>
<rect x="1447.7" y="3249.8" width="84.7" height="16.21" fill="#800000"/>
<rect x="1447.7" y="3269.61" width="84.7" height="8.61" fill="#c0c0c0"/>
<rect x="1447.7" y="3285.77" width="84.7" height="68.5" fill="#ff00ff"/>
<rect x="1447.7" y="3357.87" width="84.7" height="28.37" fill="#0000ff"/>
<rect x="1447.7" y="3389.84" width="84.7" height="52.69" fill="#ffff00"/>
<rect x="1447.7" y="3446.13" width="84.7" height="100.87" fill="#00ff00"/>
<rect x="1447.7" y="3550.6" width="84.7" height="236.26" fill="#ff0000"/>
<rect x="1588.2" y="3204.2" width="91.9" height="1120.8" fill="#000"/>
<rect x="1591.8" y="3217.78" width="84.7" height="8.2" fill="#000080"/>
<rect x="1591.8" y="3233.54" width="84.7" height="16.71" fill="#008000"/>
<rect x="1591.8" y="3253.85" width="84.7" height="24.32" fill="#800000"/>
<rect x="1591.8" y="3281.77" width="84.7" height="8.61" fill="#c0c0c0"/>
<rect x="1591.8" y="3297.93" width="84.7" height="56.34" fill="#ff00ff"/>
<rect x="1591.8" y="3357.87" width="84.7" height="24.32" fill="#0000ff"/>
<rect x="1591.8" y="3385.79" width="84.7" height="85.11" fill="#ffff00"/>
<rect x="1591.8" y="3474.5" width="84.7" height="236.41" fill="#00ff00"/>
<rect x="1591.8" y="3714.51" width="84.7" height="116.03" fill="#ff0000"/>
<g stroke="#000" stroke-width="3.6" fill="none" stroke-linecap="butt">
<path d="M152.8 3204.2H1780.9"/>
<path d="M152.8 4325H1784.5"/>
<path d="M169.8 3204.2V4325"/>
<path d="M1782.7 3206.2V4325"/>
<path d="M152.8 3428.36H169.8"/>
<path d="M152.8 3652.52H169.8"/>
<path d="M152.8 3876.68H169.8"/>
<path d="M152.8 4100.84H169.8"/>
<path d="M318 4325V4339"/>
<path d="M461.8 4325V4339"/>
<path d="M610 4325V4339"/>
<path d="M757.6 4325V4339"/>
<path d="M901.9 4325V4339"/>
<path d="M1050.1 4325V4339"/>
<path d="M1194 4325V4339"/>
<path d="M1342.3 4325V4339"/>
<path d="M1490 4325V4339"/>
<path d="M1634.1 4325V4339"/>
</g>
<g class="tl" text-anchor="end">
<text x="127.6" y="3218.7">100</text>
<text x="127.6" y="3442.86">80</text>
<text x="127.6" y="3667.02">60</text>
<text x="127.6" y="3891.18">40</text>
<text x="127.6" y="4115.34">20</text>
<text x="127.6" y="4339.5">0</text>
</g>
<g class="at" transform="translate(59.5 4019.2) rotate(-90)">
<text x="0" y="0" textLength="69.3" lengthAdjust="spacingAndGlyphs">[%]</text>
<text x="90.4" y="0" textLength="161" lengthAdjust="spacingAndGlyphs">relative</text>
<text x="264.8" y="0" textLength="250.4" lengthAdjust="spacingAndGlyphs">abundance</text>
</g>
<g class="tl" text-anchor="end">
<text transform="translate(319 4364) rotate(-60)" x="0" y="15">K20-144</text>
<text transform="translate(462.8 4364) rotate(-60)" x="0" y="15">K20-145</text>
<text transform="translate(611 4364) rotate(-60)" x="0" y="15">K20-146</text>
<text transform="translate(758.6 4364) rotate(-60)" x="0" y="15">K20-147</text>
<text transform="translate(902.9 4364) rotate(-60)" x="0" y="15">K20-148</text>
<text transform="translate(1051.1 4364) rotate(-60)" x="0" y="15">K21-149</text>
<text transform="translate(1195 4364) rotate(-60)" x="0" y="15">K21-151</text>
<text transform="translate(1343.3 4364) rotate(-60)" x="0" y="15">K21-152</text>
<text transform="translate(1491 4364) rotate(-60)" x="0" y="15">K21-154</text>
<text transform="translate(1635.1 4364) rotate(-60)" x="0" y="15">K21-155</text>
</g>
<text class="at" x="833.5" y="4579.2" textLength="136.3" lengthAdjust="spacingAndGlyphs">raster</text>
<text class="at" x="982.7" y="4579.2" textLength="171.8" lengthAdjust="spacingAndGlyphs">number</text>
<rect x="1837.7" y="3203.9" width="597.1" height="905.2" fill="#fff" stroke="#000" stroke-width="3.6"/>
<rect x="1870.4" y="3248.5" width="104" height="31.6" rx="2.5" fill="#000000" stroke="#000" stroke-width="3.6"/>
<text class="lg" x="1996.8" y="3280.3" textLength="291" lengthAdjust="spacingAndGlyphs">Proteobacteria</text>
<rect x="1870.4" y="3308.5" width="104" height="31.6" rx="2.5" fill="#ff0000" stroke="#000" stroke-width="3.6"/>
<text class="lg" x="1996.8" y="3340.33" textLength="319" lengthAdjust="spacingAndGlyphs">Acidobacteriota</text>
<rect x="1870.4" y="3368.5" width="104" height="31.6" rx="2.5" fill="#00ff00" stroke="#000" stroke-width="3.6"/>
<text class="lg" x="1996.8" y="3400.36" textLength="251" lengthAdjust="spacingAndGlyphs">Bacteroidota</text>
<rect x="1870.4" y="3432.5" width="104" height="31.6" rx="2.5" fill="#ffff00" stroke="#000" stroke-width="3.6"/>
<text class="lg" x="1996.8" y="3460.39" textLength="384" lengthAdjust="spacingAndGlyphs">Verrucomicrobiota</text>
<rect x="1870.4" y="3492.5" width="104" height="31.6" rx="2.5" fill="#0000ff" stroke="#000" stroke-width="3.6"/>
<text class="lg" x="1996.8" y="3520.42" textLength="335" lengthAdjust="spacingAndGlyphs">Actinobacteriota</text>
<rect x="1870.4" y="3552.5" width="104" height="31.6" rx="2.5" fill="#ff00ff" stroke="#000" stroke-width="3.6"/>
<text class="lg" x="1996.8" y="3580.45" textLength="387" lengthAdjust="spacingAndGlyphs">Gemmatimonadota</text>
<rect x="1870.4" y="3612.5" width="104" height="31.6" rx="2.5" fill="#00ffff" stroke="#000" stroke-width="3.6"/>
<text class="lg" x="1996.8" y="3640.48" textLength="219" lengthAdjust="spacingAndGlyphs">Chloroflexi</text>
<rect x="1870.4" y="3672.5" width="104" height="31.6" rx="2.5" fill="#c0c0c0" stroke="#000" stroke-width="3.6"/>
<text class="lg" x="1996.8" y="3700.51" textLength="335" lengthAdjust="spacingAndGlyphs">Planctomycetota</text>
<rect x="1870.4" y="3732.5" width="104" height="31.6" rx="2.5" fill="#800000" stroke="#000" stroke-width="3.6"/>
<text class="lg" x="1996.8" y="3760.54" textLength="257" lengthAdjust="spacingAndGlyphs">Myxococcota</text>
<rect x="1870.4" y="3792.5" width="104" height="31.6" rx="2.5" fill="#008000" stroke="#000" stroke-width="3.6"/>
<text class="lg" x="1996.8" y="3820.57" textLength="251" lengthAdjust="spacingAndGlyphs">Nitrospirota</text>
<rect x="1870.4" y="3852.5" width="104" height="31.6" rx="2.5" fill="#808000" stroke="#000" stroke-width="3.6"/>
<text class="lg" x="1996.8" y="3880.6" textLength="300" lengthAdjust="spacingAndGlyphs">Patescibacteria</text>
<rect x="1870.4" y="3912.5" width="104" height="31.6" rx="2.5" fill="#000080" stroke="#000" stroke-width="3.6"/>
<text class="lg" x="1996.8" y="3940.63" textLength="335" lengthAdjust="spacingAndGlyphs">Bdellovibrionota</text>
<rect x="1870.4" y="3972.5" width="104" height="31.6" rx="2.5" fill="#800080" stroke="#000" stroke-width="3.6"/>
<text class="lg" x="1996.8" y="4000.66" textLength="213" lengthAdjust="spacingAndGlyphs">Firmicutes</text>
<rect x="1870.4" y="4032.5" width="104" height="31.6" rx="2.5" fill="#008080" stroke="#000" stroke-width="3.6"/>
<text class="lg" x="1996.8" y="4060.69" textLength="100" lengthAdjust="spacingAndGlyphs">other</text>
<text class="se" x="1940.4" y="4223.1" textLength="395.2" lengthAdjust="spacingAndGlyphs">AUTUMN</text>
</g>
</svg>
</body>
</html>
